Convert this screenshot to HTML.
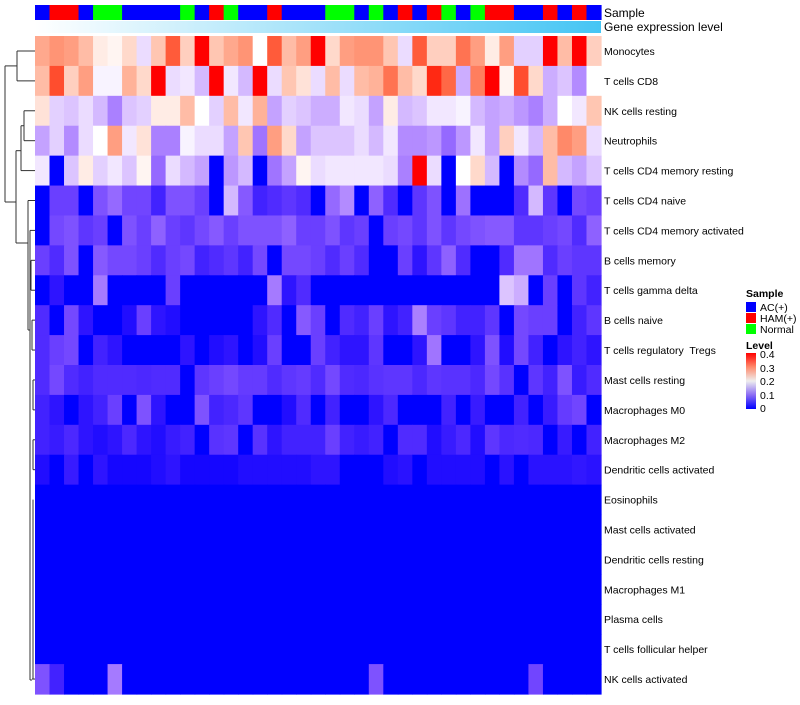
<!DOCTYPE html>
<html><head><meta charset="utf-8"><style>
body{margin:0;background:#fff;width:800px;height:700px;overflow:hidden;font-family:"Liberation Sans",sans-serif}
svg text{font-family:"Liberation Sans",sans-serif;white-space:pre}
</style></head><body>
<svg id="chart" width="800" height="700" xmlns="http://www.w3.org/2000/svg">
<g id="dend" stroke="#333" stroke-width="1" fill="none"></g>
<g id="cells"></g>
<g id="anno"></g>
<rect x="35" y="21" width="566" height="12" fill="url(#gexp)"/>
<defs><linearGradient id="gexp" x1="0" x2="1"><stop offset="0" stop-color="#ffffff"/><stop offset="1" stop-color="#45c5f4"/></linearGradient>
<linearGradient id="lvl" x1="0" y1="1" x2="0" y2="0"><stop offset="0" stop-color="#0000ff"/><stop offset="0.25" stop-color="#8a6cf4"/><stop offset="0.5" stop-color="#eeeeee"/><stop offset="0.75" stop-color="#ff8a6c"/><stop offset="1" stop-color="#ff0000"/></linearGradient></defs>
<text x="604" y="17" font-size="12">Sample</text>
<text x="604" y="31" font-size="12">Gene expression level</text>
<g id="rowlabels" font-size="10.5"></g>
<g font-size="10.5">
<text x="746" y="297" font-weight="bold">Sample</text>
<rect x="746" y="302" width="10" height="10" fill="#0000ff"/>
<text x="760" y="311">AC(+)</text>
<rect x="746" y="313" width="10" height="10" fill="#ff0000"/>
<text x="760" y="322">HAM(+)</text>
<rect x="746" y="324" width="10" height="10" fill="#00ff00"/>
<text x="760" y="333">Normal</text>
<text x="746" y="349" font-weight="bold">Level</text>
<rect x="746" y="353" width="10" height="56" fill="url(#lvl)"/>
<text x="760" y="358">0.4</text>
<text x="760" y="372">0.3</text>
<text x="760" y="385">0.2</text>
<text x="760" y="399">0.1</text>
<text x="760" y="412">0</text>
</g>
</svg>
<script>
const rowNames=["Monocytes","T cells CD8","NK cells resting","Neutrophils","T cells CD4 memory resting","T cells CD4 naive","T cells CD4 memory activated","B cells memory","T cells gamma delta","B cells naive","T cells regulatory  Tregs","Mast cells resting","Macrophages M0","Macrophages M2","Dendritic cells activated","Eosinophils","Mast cells activated","Dendritic cells resting","Macrophages M1","Plasma cells","T cells follicular helper","NK cells activated"];
const sampleGroups="BRRBGGBBBBGBRGBBRBBBGGBGBRBRGBGRRBBRBRB".split("");
const r1=[0.29,0.31,0.30,0.27,0.22,0.21,0.24,0.17,0.26,0.36,0.25,0.42,0.26,0.29,0.31,0.20,0.36,0.27,0.30,0.42,0.24,0.30,0.31,0.31,0.26,0.17,0.36,0.25,0.25,0.34,0.30,0.22,0.30,0.16,0.16,0.42,0.27,0.42,0.25];
const r2=[0.27,0.37,0.25,0.30,0.19,0.19,0.28,0.24,0.42,0.17,0.18,0.14,0.42,0.18,0.14,0.42,0.17,0.26,0.23,0.17,0.27,0.17,0.27,0.28,0.34,0.27,0.24,0.39,0.35,0.13,0.33,0.42,0.21,0.37,0.24,0.13,0.15,0.10,0.20];
const r3=[0.23,0.16,0.15,0.17,0.14,0.09,0.15,0.16,0.22,0.22,0.27,0.20,0.16,0.27,0.18,0.28,0.12,0.16,0.15,0.13,0.13,0.18,0.17,0.12,0.22,0.14,0.15,0.18,0.18,0.19,0.14,0.12,0.13,0.11,0.09,0.13,0.20,0.18,0.26];
const r4=[0.12,0.16,0.10,0.17,0.20,0.30,0.18,0.23,0.09,0.09,0.19,0.17,0.17,0.12,0.26,0.08,0.30,0.24,0.12,0.15,0.15,0.15,0.17,0.14,0.18,0.10,0.10,0.11,0.07,0.11,0.18,0.12,0.25,0.18,0.14,0.27,0.32,0.30,0.17];
const r5=[0.18,0,0.15,0.22,0.16,0.18,0.15,0.21,0.07,0.17,0.14,0.12,0,0.11,0.14,0,0.08,0.12,0.21,0.17,0.18,0.18,0.18,0.18,0.17,0.09,0.42,0.17,0,0.20,0.24,0.14,0,0.10,0.07,0.27,0.14,0.12,0.15];
const r6=[0,0.035,0.035,0,0.05,0.07,0.04,0.04,0.014,0.05,0.05,0.035,0,0.14,0.056,0.014,0.02,0.028,0.02,0,0.07,0.1,0,0.063,0.02,0,0.028,0.05,0,0.077,0,0,0,0.02,0.14,0.028,0,0.042,0.035];
const r7=[0,0.042,0.05,0.028,0.035,0,0.05,0.035,0.063,0.035,0.028,0.042,0.056,0.035,0.05,0.05,0.05,0.063,0.035,0.035,0.05,0.028,0.035,0,0.035,0.042,0.028,0.05,0.028,0.042,0.05,0.056,0.056,0.028,0.028,0.035,0.042,0.02,0.063];
const r8=[0.035,0.02,0.05,0,0.056,0.042,0.042,0.035,0.02,0.035,0.042,0.014,0.02,0.028,0.014,0.042,0,0.042,0.042,0.035,0.02,0.035,0.02,0,0,0.035,0.007,0.028,0.063,0.02,0,0,0.02,0.08,0.08,0.02,0.035,0.028,0.028];
const r9=[0,0.007,0,0,0.085,0,0,0,0,0.035,0,0,0,0,0,0,0.085,0.007,0.02,0,0,0,0,0,0,0,0,0,0,0,0,0,0.15,0.13,0,0.035,0,0.028,0.014];
const r10=[0.02,0,0.042,0.007,0,0,0.004,0.035,0.007,0.004,0,0,0,0,0,0.007,0.02,0,0.056,0.035,0,0.02,0.014,0.035,0.007,0.014,0.09,0.035,0.028,0.014,0.014,0.028,0,0.042,0.035,0.035,0,0.014,0.028];
const r11=[0.02,0.035,0.042,0,0.014,0.007,0,0,0,0,0.007,0,0.004,0.007,0,0.004,0.035,0,0,0.035,0.014,0.007,0.007,0.028,0,0,0.007,0.08,0,0,0.007,0.05,0.004,0.042,0.014,0,0.007,0.014,0.007];
const r12=[0.02,0.042,0.02,0.014,0.02,0.02,0.02,0.018,0.02,0.02,0,0.028,0.035,0.042,0.032,0.032,0.02,0.028,0.032,0.02,0.042,0.02,0.018,0.025,0.028,0.028,0.018,0.028,0.025,0.025,0.018,0.042,0.025,0,0.028,0.014,0.05,0.01,0.02];
const r13=[0.014,0.007,0,0.007,0.014,0.035,0,0.05,0.007,0,0,0.05,0.014,0.018,0.028,0,0,0.004,0.02,0,0.014,0,0,0.007,0.018,0,0,0,0.014,0,0.01,0,0,0.014,0,0.01,0.032,0.04,0];
const r14=[0.014,0.01,0.018,0.007,0.004,0.007,0.018,0.007,0.004,0.01,0.014,0,0.025,0.028,0,0.025,0.007,0.014,0.014,0.014,0.035,0.014,0.01,0.014,0,0.02,0.02,0.004,0.01,0.018,0.004,0.028,0.018,0.02,0.018,0,0.01,0,0.014];
const r15=[0.004,0,0.01,0,0.007,0.002,0.002,0.002,0.004,0.007,0.002,0.002,0.002,0.002,0.004,0.004,0.004,0.004,0.004,0.007,0.007,0,0,0,0.004,0.006,0,0.004,0.004,0.004,0.004,0,0.006,0,0.006,0.006,0.006,0.008,0.006];
const r16=Array(39).fill(0),r17=Array(39).fill(0),r18=Array(39).fill(0),r19=Array(39).fill(0),r20=Array(39).fill(0),r21=Array(39).fill(0);
const r22=[0.05,0.014,0,0,0,0.085,0,0,0,0,0,0,0,0,0,0,0,0,0,0,0,0,0,0.05,0,0,0,0,0,0,0,0,0,0,0.04,0,0,0,0];
const values=[r1,r2,r3,r4,r5,r6,r7,r8,r9,r10,r11,r12,r13,r14,r15,r16,r17,r18,r19,r20,r21,r22];

const X0=35,X1=601,Y0=36,Y1=694;
const nC=39,nR=rowNames.length,cw=(X1-X0)/nC,rh=(Y1-Y0)/nR;
const xPos=i=>X0+i*cw, yPos=j=>Y0+j*rh;
function toLab(h){let c=[0,2,4].map(i=>parseInt(h.substr(i+1,2),16)/255).map(v=>v>0.04045?Math.pow((v+0.055)/1.055,2.4):v/12.92);
 let X=(c[0]*0.4124+c[1]*0.3576+c[2]*0.1805)/0.95047,Y=c[0]*0.2126+c[1]*0.7152+c[2]*0.0722,Z=(c[0]*0.0193+c[1]*0.1192+c[2]*0.9505)/1.08883;
 const f=t=>t>0.008856?Math.cbrt(t):7.787*t+16/116;return[116*f(Y)-16,500*(f(X)-f(Y)),200*(f(Y)-f(Z))];}
function fromLab(L){let fy=(L[0]+16)/116,fx=fy+L[1]/500,fz=fy-L[2]/200;const g=t=>t*t*t>0.008856?t*t*t:(t-16/116)/7.787;
 let X=g(fx)*0.95047,Y=g(fy),Z=g(fz)*1.08883;
 let r=X*3.2406-Y*1.5372-Z*0.4986,gg=-X*0.9689+Y*1.8758+Z*0.0415,b=X*0.0557-Y*0.2040+Z*1.0570;
 return "rgb("+[r,gg,b].map(v=>{v=v>0.0031308?1.055*Math.pow(v,1/2.4)-0.055:12.92*v;return Math.round(Math.max(0,Math.min(1,v))*255)}).join(",")+")";}
const B=toLab("#0000ff"),W=toLab("#ffffff"),R=toLab("#ff0000");
function color(v){v=Math.max(0,Math.min(0.4,v));let a,b,t;if(v<=0.2){a=B;b=W;t=v/0.2}else{a=W;b=R;t=(v-0.2)/0.2}return fromLab(a.map((x,i)=>x+(b[i]-x)*t));}
const NS="http://www.w3.org/2000/svg";
const cells=document.getElementById('cells');
values.forEach((row,j)=>row.forEach((v,i)=>{const r=document.createElementNS(NS,'rect');
 r.setAttribute('x',xPos(i));r.setAttribute('y',yPos(j));r.setAttribute('width',cw+0.6);r.setAttribute('height',rh+0.6);r.setAttribute('fill',color(v));
 
 
 cells.appendChild(r);}));
const sc={B:"#0000ff",R:"#ff0000",G:"#00ff00"};
const anno=document.getElementById('anno');
sampleGroups.forEach((g,i)=>{const r=document.createElementNS(NS,'rect');
 r.setAttribute('x',xPos(i));r.setAttribute('y',5);r.setAttribute('width',cw+0.6);r.setAttribute('height',15);r.setAttribute('fill',sc[g]);
 
 
 anno.appendChild(r);});
const rl=document.getElementById('rowlabels');
rowNames.forEach((n,j)=>{const t=document.createElementNS(NS,'text');t.setAttribute('x',604);t.setAttribute('y',yPos(j)+rh/2+4);t.textContent=n;
 
 
 rl.appendChild(t);});
const cy=j=>yPos(j)+rh/2;
const segs=[[17,cy(0),35,cy(0)],[17,cy(1),35,cy(1)],[17,cy(0),17,cy(1)],
[24,cy(2),35,cy(2)],[24,cy(3),35,cy(3)],[24,cy(2),24,cy(3)],
[21,(cy(2)+cy(3))/2,24,(cy(2)+cy(3))/2],[21,cy(4),35,cy(4)],[21,(cy(2)+cy(3))/2,21,cy(4)],
[16,(cy(2)+cy(4))/2+10,21,(cy(2)+cy(4))/2+10],[16,243,28,243],[16,(cy(2)+cy(4))/2+10,16,243],
[5,(cy(0)+cy(1))/2,17,(cy(0)+cy(1))/2],[5,202,16,202],[5,(cy(0)+cy(1))/2,5,202],
[28,cy(5),35,cy(5)],[28,cy(5),28,330],[28,330,30,330],[30,cy(6),30,680],[30,cy(6),35,cy(6)],
[31,cy(7),35,cy(7)],[31,cy(8),35,cy(8)],[31,cy(7),31,cy(8)],[32,cy(9),35,cy(9)],[32,cy(10),35,cy(10)],[32,cy(9),32,cy(10)],
[33,cy(11),35,cy(11)],[33,cy(12),35,cy(12)],[33,cy(11),33,cy(12)],[33,cy(13),35,cy(13)],[33,cy(14),35,cy(14)],[33,cy(13),33,cy(14)],
[33,cy(15),33,cy(21)],[32,cy(21),35,cy(21)],[30,680,32,680]];
const dg=document.getElementById('dend');
segs.forEach(s=>{const l=document.createElementNS(NS,'line');l.setAttribute('x1',s[0]);l.setAttribute('y1',s[1]);l.setAttribute('x2',s[2]);l.setAttribute('y2',s[3]);
 
 
 dg.appendChild(l);});
</script>
</body></html>
